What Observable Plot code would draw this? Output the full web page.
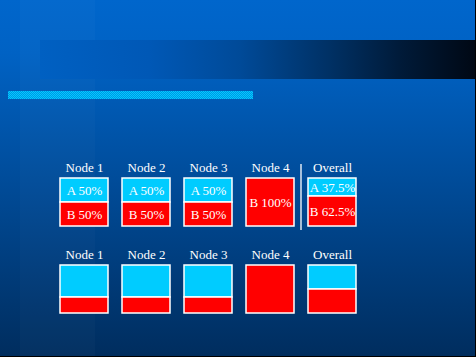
<!DOCTYPE html>
<html><head><meta charset="utf-8">
<script src="https://cdn.jsdelivr.net/npm/d3@7"></script>
<script src="https://cdn.jsdelivr.net/npm/@observablehq/plot@0.6"></script>
<style>
html,body{margin:0;padding:0;background:#00306A;}
#chart{position:relative;width:476px;height:357px;overflow:hidden;}
#chart svg{position:absolute;left:0;top:0;}
</style></head><body><div id="chart"></div>
<script>
// ---- data ----
const nodes = ["Node 1", "Node 2", "Node 3", "Node 4", "Overall"];
const categories = ["A", "B"];
const colors = ["#00CCFF", "#FF0000"];
const topA = [0.5, 0.5, 0.5, 0, 0.375];
const topB = [0.5, 0.5, 0.5, 1, 0.625];
const bottomA = [0.667, 0.667, 0.667, 0, 0.5];
const bottomB = [0.333, 0.333, 0.333, 1, 0.5];

function segments(aVals, bVals) {
  const out = [];
  nodes.forEach((n, i) => {
    const a = aVals[i], b = bVals[i];
    if (a > 0) out.push({node: n, cat: "A", value: a, y1: 0, y2: a});
    if (b > 0) out.push({node: n, cat: "B", value: b, y1: a, y2: a + b});
  });
  return out;
}

const W = 476, H = 357;
const root = d3.select("#chart");

// ---- slide background ----
const bg = root.append("svg").attr("width", W).attr("height", H);
const defs = bg.append("defs");
const vg = defs.append("linearGradient").attr("id", "bgGrad").attr("x1", 0).attr("y1", 0).attr("x2", 0).attr("y2", 1);
vg.append("stop").attr("offset", 0).attr("stop-color", "#0066CC");
vg.append("stop").attr("offset", 0.15).attr("stop-color", "#0062C4");
vg.append("stop").attr("offset", 1).attr("stop-color", "#002D5E");
const hg = defs.append("linearGradient").attr("id", "barGrad").attr("x1", 0).attr("y1", 0).attr("x2", 1).attr("y2", 0);
[[0, "#0060C2"], [0.25, "#0058B6"], [0.46, "#004A98"], [0.67, "#003063"], [0.83, "#001A38"], [1, "#000814"]]
  .forEach(([o, c]) => hg.append("stop").attr("offset", o).attr("stop-color", c));
const pat = defs.append("pattern").attr("id", "checker").attr("patternUnits", "userSpaceOnUse")
  .attr("width", 2).attr("height", 2);
pat.append("rect").attr("width", 2).attr("height", 2).attr("fill", "#0094E4");
pat.append("rect").attr("width", 1).attr("height", 1).attr("fill", "#00CCFF");
pat.append("rect").attr("x", 1).attr("y", 1).attr("width", 1).attr("height", 1).attr("fill", "#00CCFF");

bg.append("rect").attr("width", W).attr("height", H).attr("fill", "url(#bgGrad)");
bg.append("rect").attr("x", 20).attr("y", 0).attr("width", 75).attr("height", H).attr("fill", "white").attr("opacity", 0.018);
bg.append("rect").attr("x", 40).attr("y", 40).attr("width", W - 40).attr("height", 39).attr("fill", "url(#barGrad)");
bg.append("rect").attr("x", 8).attr("y", 91).attr("width", 245).attr("height", 8).attr("fill", "url(#checker)");
bg.append("rect").attr("x", W - 1).attr("y", 0).attr("width", 1).attr("height", H).attr("fill", "#000");
bg.append("rect").attr("x", 0).attr("y", H - 1).attr("width", W).attr("height", 1).attr("fill", "#000");

// ---- the two rows of stacked boxes ----
function row({segs, marginTop, marginBottom, labels, divider}) {
  const marks = [
    Plot.barY(segs, {x: "node", y1: "y1", y2: "y2", fill: "cat", stroke: "white", strokeWidth: 1.5}),
    Plot.text(nodes, {x: d => d, frameAnchor: "top", lineAnchor: "middle", dy: -11, fill: "white"})
  ];
  if (labels) marks.push(Plot.text(segs, {
    x: "node", y: d => (d.y1 + d.y2) / 2,
    text: d => `${d.cat} ${+(d.value * 100).toFixed(1)}%`, fill: "white"
  }));
  if (divider) marks.push(Plot.ruleX(["Overall"], {
    x: d => d, dx: -31.5, stroke: "white", strokeWidth: 1.3, insetTop: -14, insetBottom: -4
  }));
  return Plot.plot({
    width: W, height: H, marginTop, marginBottom, marginLeft: 59.5, marginRight: 119,
    x: {type: "band", domain: nodes, paddingInner: 0.221, paddingOuter: 0, axis: null},
    y: {domain: [0, 1], reverse: true, axis: null},
    color: {domain: categories, range: colors},
    style: {background: "transparent", fontFamily: "'Liberation Serif', 'Times New Roman', serif",
            fontSize: "13px", color: "white", overflow: "visible"},
    marks
  });
}

root.node().appendChild(row({segs: segments(topA, topB), marginTop: 178, marginBottom: H - 226, labels: true, divider: true}));
root.node().appendChild(row({segs: segments(bottomA, bottomB), marginTop: 265, marginBottom: H - 313, labels: false, divider: false}));
</script></body></html>
